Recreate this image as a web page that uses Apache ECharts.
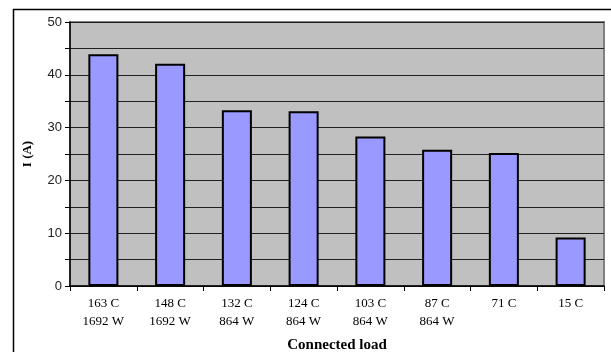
<!DOCTYPE html>
<html>
<head>
<meta charset="utf-8">
<script src="https://cdn.jsdelivr.net/npm/echarts@6/dist/echarts.min.js"></script>
<style>html,body{margin:0;padding:0;background:#fff;}#c{width:611px;height:352px;}</style>
</head>
<body>
<div id="c"></div>
<script>
const categories = ["163 C\n1692 W", "148 C\n1692 W", "132 C\n864 W", "124 C\n864 W", "103 C\n864 W", "87 C\n864 W", "71 C", "15 C"];
const currentA = [43.9, 42.1, 33.3, 33.1, 28.3, 25.8, 25.2, 9.2];
const yTicks = [0, 10, 20, 30, 40, 50];

const chart = echarts.init(document.getElementById('c'));
chart.setOption({
  animation: false,
  backgroundColor: '#ffffff',
  grid: {
    left: 70, top: 22, right: 7, bottom: 66,
    containLabel: false, outerBoundsMode: 'none',
    show: true, backgroundColor: '#c0c0c0', borderColor: '#808080', borderWidth: 2
  },
  graphic: [
    {type: 'line', shape: {x1: 13, y1: 9.5, x2: 611, y2: 9.5}, style: {stroke: '#000', lineWidth: 1.5}, z: 10},
    {type: 'line', shape: {x1: 13.5, y1: 9, x2: 13.5, y2: 352}, style: {stroke: '#000', lineWidth: 1.5}, z: 10}
  ],
  xAxis: {
    type: 'category',
    data: categories,
    name: 'Connected load',
    nameLocation: 'middle',
    nameGap: 52,
    nameTextStyle: {fontFamily: 'Liberation Serif', fontWeight: 'bold', fontSize: 15, color: '#000'},
    axisLine: {lineStyle: {color: '#000', width: 1.5}},
    axisTick: {show: true, length: 5, lineStyle: {color: '#000'}},
    axisLabel: {fontFamily: 'Liberation Serif', fontSize: 13, color: '#000', lineHeight: 18, margin: 9, interval: 0}
  },
  yAxis: {
    type: 'value',
    min: 0, max: 50, interval: 5,
    name: 'I (A)',
    nameLocation: 'middle',
    nameGap: 36,
    nameRotate: 90,
    nameTextStyle: {fontFamily: 'Liberation Serif', fontWeight: 'bold', fontSize: 13, color: '#000'},
    axisLine: {show: true, lineStyle: {color: '#000', width: 1.5}},
    axisTick: {show: true, length: 5, lineStyle: {color: '#000'}},
    axisLabel: {
      fontFamily: 'Liberation Sans', fontSize: 13, color: '#222', margin: 8,
      formatter: v => yTicks.includes(v) ? String(v) : ''
    },
    splitLine: {show: true, lineStyle: {color: '#202020', width: 1}}
  },
  series: [{
    type: 'bar',
    data: currentA,
    barWidth: '45%',
    itemStyle: {color: '#9999ff', borderColor: '#000', borderWidth: 2}
  }]
});
</script>
</body>
</html>
